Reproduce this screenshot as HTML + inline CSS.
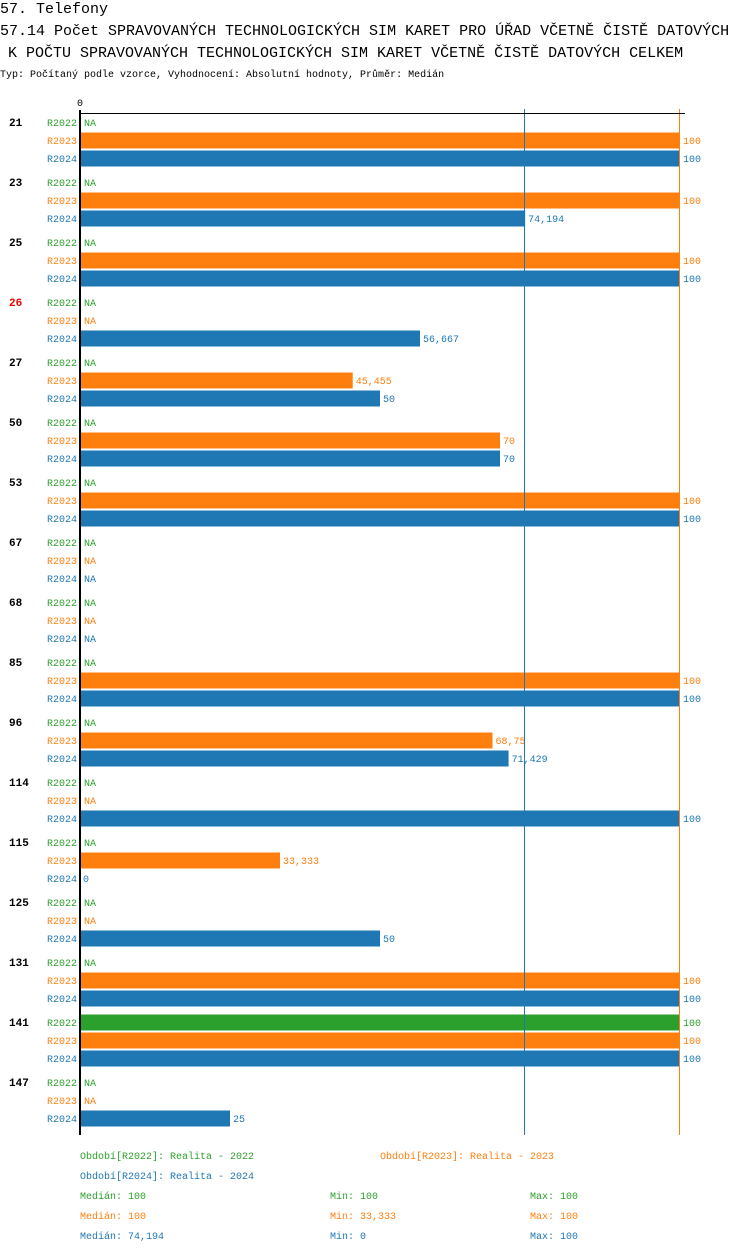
<!DOCTYPE html>
<html><head><meta charset="utf-8"><style>
body{margin:0;background:#fff;width:750px;height:1254px;overflow:hidden;font-family:"Liberation Mono",monospace}
svg{position:absolute;left:0;top:0}
text{font-family:"Liberation Mono",monospace}
</style></head><body>
<svg id="c" width="750" height="1254">
<text x="0" y="13" font-size="15">57. Telefony</text>
<text x="0" y="35" font-size="15">57.14 Počet SPRAVOVANÝCH TECHNOLOGICKÝCH SIM KARET PRO ÚŘAD VČETNĚ ČISTĚ DATOVÝCH</text>
<text x="8" y="57" font-size="15">K POČTU SPRAVOVANÝCH TECHNOLOGICKÝCH SIM KARET VČETNĚ ČISTĚ DATOVÝCH CELKEM</text>
<text x="0" y="77" font-size="10">Typ: Počítaný podle vzorce, Vyhodnocení: Absolutní hodnoty, Průměr: Medián</text>
</svg>
<script>
const categories=["21","23","25","26","27","50","53","67","68","85","96","114","115","125","131","141","147"];
const redCats=["26"];
const seriesNames=["R2022","R2023","R2024"];
const s2022=[null,null,null,null,null,null,null,null,null,null,null,null,null,null,null,100,null];
const s2023=[100,100,100,null,45.455,70,100,null,null,100,68.75,null,33.333,null,100,100,null];
const s2024=[100,74.194,100,56.667,50,70,100,null,null,100,71.429,100,0,50,100,100,25];
const medians=[100,100,74.194];
const mins=[100,33.333,0];
const maxs=[100,100,100];
const colors=["#2ca02c","#ff7f0e","#1f77b4"];
const svg=document.getElementById('c');
const NS="http://www.w3.org/2000/svg";
const x0=80,xw=600,y0=122;
const xs=v=>x0+v/100*xw;
const fmt=v=>String(v).replace('.',',');
function el(t,a,txt){const e=document.createElementNS(NS,t);for(const k in a)e.setAttribute(k,a[k]);if(txt!==undefined)e.textContent=txt;svg.appendChild(e);return e;}
const series=[s2022,s2023,s2024];
const yEnd=y0+categories.length*60-7;
categories.forEach((c,i)=>{
 const gy=y0+i*60;
 const t=el('text',{x:9,y:gy+4,'font-size':11,'font-weight':'bold',fill:redCats.includes(c)?'#e00':'#000'},c);
 
 
 series.forEach((s,si)=>{
  const y=gy+si*18;
  const lt=el('text',{x:77,y:y+4,'font-size':10,'text-anchor':'end',fill:colors[si]},seriesNames[si]);
  
  
  const v=s[i];
  if(v===null){
   const n=el('text',{x:84,y:y+4,'font-size':10,fill:colors[si]},'NA');
   
   
  }else{
   if(v>0){
    const r=el('rect',{x:x0,y:y-7.5,width:xs(v)-x0,height:16,fill:colors[si]});
    
    
   }
   const vt=el('text',{x:xs(v)+3,y:y+4,'font-size':10,fill:colors[si]},fmt(v));
   
   
  }
 });
});
[2,1].forEach(si=>{
 const lx=Math.floor(xs(medians[si])-0.5)+0.5;
 const l=el('line',{x1:lx,x2:lx,y1:109,y2:yEnd,stroke:colors[si],'stroke-width':1});
 
 
});
const ax=el('line',{x1:80,x2:80,y1:110,y2:yEnd,stroke:'#000','stroke-width':2});


const hx=el('line',{x1:80,x2:685,y1:113.5,y2:113.5,stroke:'#000','stroke-width':1});


const z=el('text',{x:80,y:106,'font-size':10,'text-anchor':'middle'},'0');


const leg=[[80,1159,0,'Období[R2022]: Realita - 2022'],[380,1159,1,'Období[R2023]: Realita - 2023'],[80,1179,2,'Období[R2024]: Realita - 2024']];
leg.forEach(l=>{const t=el('text',{x:l[0],y:l[1],'font-size':10,fill:colors[l[2]]},l[3]);
 
 });
[0,1,2].forEach(si=>{
 const y=1199+si*20;
 const a=el('text',{x:80,y:y,'font-size':10,fill:colors[si]},'Medián: '+fmt(medians[si]));
 
 
 const b=el('text',{x:330,y:y,'font-size':10,fill:colors[si]},'Min: '+fmt(mins[si]));
 
 
 const d=el('text',{x:530,y:y,'font-size':10,fill:colors[si]},'Max: '+fmt(maxs[si]));
 
 
});
</script>
</body></html>
